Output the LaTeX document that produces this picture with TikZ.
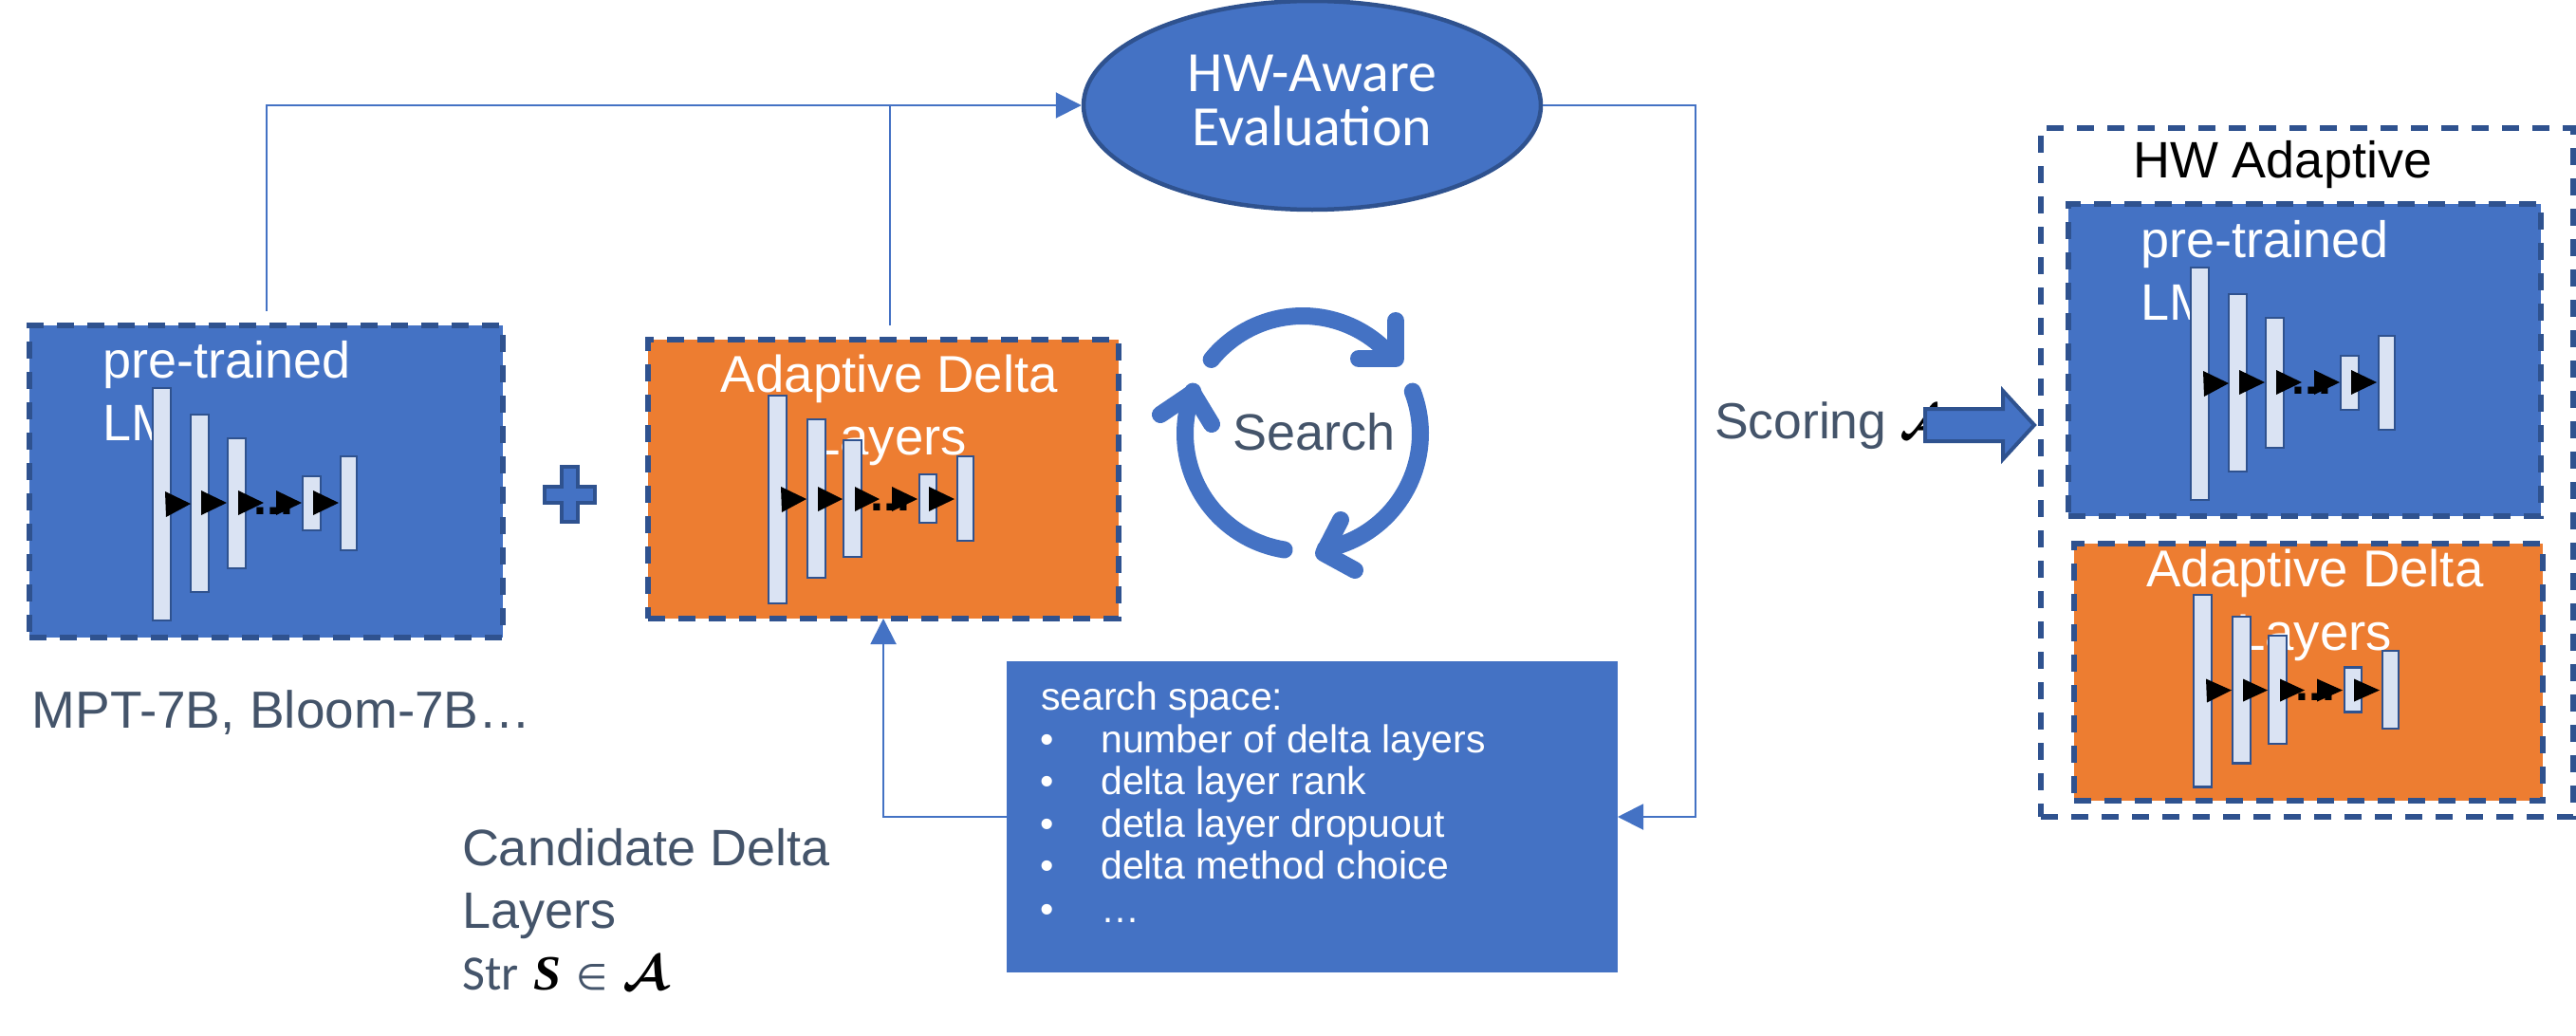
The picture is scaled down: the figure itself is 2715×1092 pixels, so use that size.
\documentclass[tikz,border=0pt]{standalone}
\usepackage{fontspec}
\usepackage{graphicx}
\usetikzlibrary{arrows.meta,shapes.geometric}
\setmainfont{Liberation Sans}
\newfontfamily\calib{Carlito}
\newfontfamily\dejavu{DejaVu Sans}
\newfontfamily\serifbi[BoldItalicFont={Liberation Serif Bold Italic}]{Liberation Serif}
\definecolor{hwblue}{HTML}{4472C4}
\definecolor{hwedge}{HTML}{2F528F}
\definecolor{hworange}{HTML}{ED7D31}
\definecolor{hwbar}{HTML}{DAE3F3}
\definecolor{hwslate}{HTML}{44546A}
\tikzset{
  dashbox/.style={draw=hwedge,line width=5.5pt,dash pattern=on 18pt off 14pt,rectangle,inner sep=0pt,outer sep=0pt},
  bluebox/.style={dashbox,fill=hwblue},
  orangebox/.style={dashbox,fill=hworange},
  layerbar/.style={draw=hwedge,line width=2.4pt,fill=hwbar},
  conn/.style={draw=hwblue,line width=2pt},
  hwtip/.style={-{Triangle[length=27pt,width=27pt]}},
  big/.style={font=\fontsize{54}{60}\selectfont,anchor=base west,inner sep=0pt,outer sep=0pt},
  whitebig/.style={big,text=white},
  slatebig/.style={big,text=hwslate},
  listtext/.style={font=\fontsize{41}{48}\selectfont,anchor=base west,inner sep=0pt,text=white},
  dotted text/.style={font=\fontsize{50}{54}\selectfont\bfseries,anchor=base west,inner sep=0pt,text=black},
  evaltext/.style={font=\calib\fontsize{60}{62}\selectfont,anchor=base,inner sep=0pt,text=white},
  cycle/.style={draw=hwblue,line width=18pt,line cap=round,line join=round},
}
% stack of layers used inside the blue boxes
\newcommand{\stackblue}[3]{%
\begin{scope}[shift={(#2,#3)}]
  \draw[layerbar] (161,409) rectangle (180,654);
  \draw[layerbar] (201,437) rectangle (220,624);
  \draw[layerbar] (240,462) rectangle (259,599);
  \draw[layerbar] (319,502) rectangle (338,559);
  \draw[layerbar] (359,481) rectangle (376,580);
  \fill (174,518) -- (201,531) -- (175,545) -- cycle;
  \fill (212,517) -- (239,530) -- (212,543) -- cycle;
  \fill (251,517) -- (278,530) -- (251,543) -- cycle;
  \node[dotted text] (#1dots) at (267,542) {...};
  \fill (291,517) -- (318,530) -- (291,543) -- cycle;
  \fill (330,517) -- (357,530) -- (330,543) -- cycle;
\end{scope}}
% stack of layers used inside the orange boxes
\newcommand{\stackorange}[4]{%
\begin{scope}[shift={(#2,#3)},yscale=#4]
  \draw[layerbar] (810,417) rectangle (829,636);
  \draw[layerbar] (851,442) rectangle (870,609);
  \draw[layerbar] (889,464) rectangle (908,587);
  \draw[layerbar] (969,500) rectangle (987,551);
  \draw[layerbar] (1009,481) rectangle (1026,570);
  \fill (823,513) -- (850,526) -- (824,540) -- cycle;
  \fill (862,513) -- (888,526) -- (862,539) -- cycle;
  \fill (901,513) -- (927,526) -- (901,539) -- cycle;
  \node[dotted text] (#1dots) at (917,538) {...};
  \fill (940,513) -- (967,526) -- (940,539) -- cycle;
  \fill (979,513) -- (1006,526) -- (979,539) -- cycle;
\end{scope}}
\begin{document}
\begin{tikzpicture}[x=1pt,y=-1pt]
\useasboundingbox (0,0) rectangle (2715,1092);
\fill[white] (0,0) rectangle (2715,1092);

% --- left blue box
\node[bluebox,minimum width=499pt,minimum height=329pt] (pre) at (280.5,507.5) {};
\node[whitebig] (preT) at (108,398) {pre-trained};
\begin{scope}
  \clip (100,410) rectangle (161,480);
  \node[whitebig] (preL) at (108,464) {LM};
\end{scope}
\stackblue{a}{0}{0}
\node[slatebig,font=\fontsize{55}{60}\selectfont] (models) at (34,767) {MPT-7B, Bloom-7B…};

% --- plus
\draw[draw=hwedge,fill=hwblue,line width=4pt,line join=miter]
  (592,492) -- (609,492) -- (609,513) -- (627,513) -- (627,530) -- (609,530) -- (609,550)
  -- (592,550) -- (592,530) -- (574,530) -- (574,513) -- (592,513) -- cycle;

% --- centre orange box
\node[orangebox,minimum width=496pt,minimum height=294pt] (delta) at (931,505) {};
\node[whitebig,anchor=base,font=\fontsize{54.6}{60}\selectfont] (deltaT) at (937.5,413) {Adaptive Delta};
\node[whitebig,anchor=base,font=\fontsize{54.6}{60}\selectfont] (deltaL) at (937,479) {Layers};
\stackorange{b}{0}{0}{1}

% --- evaluation ellipse
\node[ellipse,draw=hwedge,fill=hwblue,line width=4.5pt,minimum width=482pt,minimum height=220pt,inner sep=0pt] (eval) at (1383,111) {};
\node[evaltext] (evalA) at (1383,96) {HW-Aware};
\node[evaltext] (evalB) at (1383,153) {Evaluation};

% --- search cycle
\draw[cycle] plot[domain=219:316,samples=40] ({1373+124*cos(\x)},{457+124*sin(\x)});
\draw[cycle] (1471,338) -- (1471,378) -- (1432,378);
\draw[cycle] plot[domain=339:439,samples=40] ({1373+124*cos(\x)},{457+124*sin(\x)});
\draw[cycle] (1413,548) -- (1395,583) -- (1428,601);
\draw[cycle] plot[domain=99:201,samples=40] ({1373+124*cos(\x)},{457+124*sin(\x)});
\draw[cycle] (1223,437) -- (1257,414) -- (1277,447);
\node[slatebig] (searchT) at (1299,474) {Search};

% --- search space box
\node[rectangle,fill=hwblue,minimum width=644pt,minimum height=328pt,inner sep=0pt,outer sep=0pt] (space) at (1383,861) {};
\node[listtext] (s0) at (1097,748) {search space:};
\node[listtext] (b1) at (1096,793) {•};
\node[listtext] (s1) at (1160,793) {number of delta layers};
\node[listtext] (b2) at (1096,837) {•};
\node[listtext] (s2) at (1160,837) {delta layer rank};
\node[listtext] (b3) at (1096,882) {•};
\node[listtext] (s3) at (1160,882) {detla layer dropuout};
\node[listtext] (b4) at (1096,926) {•};
\node[listtext] (s4) at (1160,926) {delta method choice};
\node[listtext] (b5) at (1096,972) {•};
\node[listtext] (s5) at (1160,972) {…};

% --- candidate text
\node[slatebig] (cand) at (487,912) {Candidate Delta};
\node[slatebig] (candL) at (487,978) {Layers};
\node[anchor=base west,inner sep=0pt,text=hwslate,font=\calib\fontsize{52}{56}\selectfont] (strT) at (487,1043) {Str};
\node[anchor=base west,inner sep=0pt,font=\serifbi\bfseries\itshape\fontsize{52}{56}\selectfont] (strS) at (562,1043) {S};
\node[anchor=base west,inner sep=0pt,text=hwslate,font=\dejavu\fontsize{38}{44}\selectfont] (strIn) at (607,1043) {∈};
\node[anchor=base west,inner sep=0pt] (strA) at (656,1043) {\scalebox{5.2}{\boldmath$\mathcal{A}$}};

% --- connectors
\coordinate (preTop) at (280.5,328);
\coordinate (deltaTop) at (938,343);
\coordinate (rightRail) at (1787,500);
\draw[conn,hwtip] (preTop) |- (eval.west);
\draw[conn] (deltaTop) -- (deltaTop |- eval.west);
\draw[conn,hwtip] (eval.east) -| (rightRail) |- (space.east);
\draw[conn,hwtip] (space.west) -| (delta.south);

% --- scoring
\node[slatebig,font=\fontsize{53.5}{60}\selectfont] (scoring) at (1807,462) {Scoring};
\node[anchor=base west,inner sep=0pt] (scoreA) at (2002,462) {\scalebox{5.2}{\boldmath$\mathcal{A}$}};
\draw[draw=hwedge,fill=hwblue,line width=4pt,line join=miter]
  (2029,431) -- (2111,431) -- (2111,412) -- (2144,448) -- (2111,484) -- (2111,465) -- (2029,465) -- cycle;

% --- right group
\node[dashbox,minimum width=561pt,minimum height=726pt] (outer) at (2431.5,498) {};
\node[big,text=black] (hwT) at (2248,187) {HW Adaptive};
\node[bluebox,minimum width=498pt,minimum height=329pt] (preR) at (2429,379.5) {};
\node[whitebig] (preRT) at (2256,271) {pre-trained};
\begin{scope}
  \clip (2250,283) rectangle (2309,353);
  \node[whitebig] (preRL) at (2256,337) {LM};
\end{scope}
\stackblue{c}{2148}{-127}
\node[orangebox,minimum width=494pt,minimum height=271pt] (deltaR) at (2433,708.5) {};
\node[whitebig,anchor=base,font=\fontsize{54.6}{60}\selectfont] (deltaRT) at (2440,618) {Adaptive Delta};
\node[whitebig,anchor=base,font=\fontsize{54.6}{60}\selectfont] (deltaRL) at (2439,685) {Layers};
\stackorange{d}{1502}{241}{0.925}
\end{tikzpicture}
\end{document}
